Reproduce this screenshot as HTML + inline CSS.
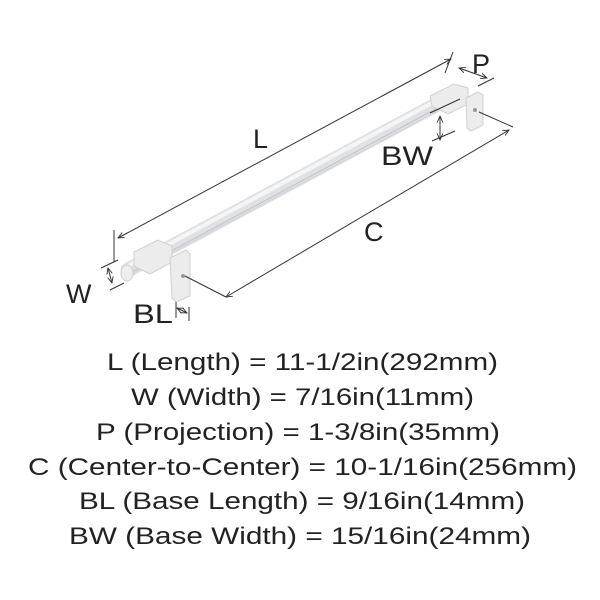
<!DOCTYPE html>
<html><head><style>
body{margin:0;background:#fff;width:600px;height:600px;overflow:hidden}
svg{position:absolute;left:0;top:0}
.t{font-family:"Liberation Sans",sans-serif;font-size:24px;fill:#222}
</style></head><body>
<svg width="600" height="600" viewBox="0 0 600 600">
<defs>
<marker id="a" viewBox="0 0 10 10" refX="9" refY="5" markerWidth="7" markerHeight="7" orient="auto-start-reverse"><path d="M0,1 L9,5 L0,9" fill="none" stroke="#333" stroke-width="1.3"/></marker>
</defs>
<line x1="128" y1="270" x2="445" y2="100" stroke="#dfe1e4" stroke-width="15" stroke-linecap="round"/>
<line x1="128" y1="266" x2="445" y2="96" stroke="#f4f5f6" stroke-width="4"/>
<line x1="132" y1="272" x2="445" y2="104" stroke="#bfc3c7" stroke-width="1"/>
<line x1="130" y1="275" x2="445" y2="107" stroke="#d0d3d6" stroke-width="1"/>
<ellipse cx="127" cy="273" rx="6" ry="8" fill="#eceeef" stroke="#cfd2d5"/>
<polygon points="134,252 158,240 172,246 172,262 150,274 134,266" fill="#ececec" stroke="#d0d0d0"/>
<polygon points="170,258 186,250 190,254 190,296 176,302 172,298" fill="#ececec" stroke="#d0d0d0"/>
<circle cx="183" cy="276" r="2" fill="#999"/>
<polygon points="430,96 454,84 468,88 468,104 448,114 432,106" fill="#ececec" stroke="#d0d0d0"/>
<polygon points="466,98 478,92 483,95 483,125 471,131 467,128" fill="#ececec" stroke="#d0d0d0"/>
<circle cx="475" cy="110" r="2" fill="#999"/>
<g stroke="#333" stroke-width="1" fill="none">
<line x1="118" y1="238" x2="451" y2="59" marker-start="url(#a)" marker-end="url(#a)"/>
<line x1="114" y1="230" x2="114" y2="262"/>
<line x1="453" y1="52" x2="445" y2="73"/>
<line x1="459" y1="68" x2="487" y2="78" marker-start="url(#a)" marker-end="url(#a)"/>
<line x1="478" y1="86" x2="494" y2="78"/>
<line x1="226" y1="297" x2="509" y2="130" marker-start="url(#a)" marker-end="url(#a)"/>
<line x1="185" y1="276" x2="226" y2="297"/>
<line x1="479" y1="112" x2="513" y2="127"/>
<line x1="440" y1="116" x2="440" y2="140" marker-start="url(#a)" marker-end="url(#a)"/>
<line x1="432" y1="141" x2="455" y2="131"/>
<line x1="430" y1="113" x2="460" y2="99"/>
<line x1="108" y1="268" x2="112" y2="283" marker-start="url(#a)" marker-end="url(#a)"/>
<line x1="101" y1="268" x2="118" y2="260"/>
<line x1="110" y1="290" x2="124" y2="283"/>
<line x1="177" y1="308" x2="187" y2="313" marker-start="url(#a)" marker-end="url(#a)"/>
<line x1="176" y1="302" x2="176" y2="318"/>
<line x1="189" y1="307" x2="189" y2="321"/>
</g>
<g font-family="Liberation Sans,sans-serif" font-size="27" fill="#222">
<text x="253" y="148">L</text>
<text x="472" y="73">P</text>
<text x="381" y="165" textLength="52" lengthAdjust="spacingAndGlyphs">BW</text>
<text x="364" y="241">C</text>
<text x="66" y="303">W</text>
<text x="133" y="323" textLength="40" lengthAdjust="spacingAndGlyphs">BL</text>
</g>
<g class="t">
<text x="107" y="370" textLength="391" lengthAdjust="spacingAndGlyphs">L (Length) = 11-1/2in(292mm)</text>
<text x="131" y="405" textLength="343" lengthAdjust="spacingAndGlyphs">W (Width) = 7/16in(11mm)</text>
<text x="96" y="440" textLength="404" lengthAdjust="spacingAndGlyphs">P (Projection) = 1-3/8in(35mm)</text>
<text x="28" y="475" textLength="549" lengthAdjust="spacingAndGlyphs">C (Center-to-Center) = 10-1/16in(256mm)</text>
<text x="79" y="509" textLength="446" lengthAdjust="spacingAndGlyphs">BL (Base Length) = 9/16in(14mm)</text>
<text x="69" y="544" textLength="462" lengthAdjust="spacingAndGlyphs">BW (Base Width) = 15/16in(24mm)</text>
</g>
</svg>
</body></html>
